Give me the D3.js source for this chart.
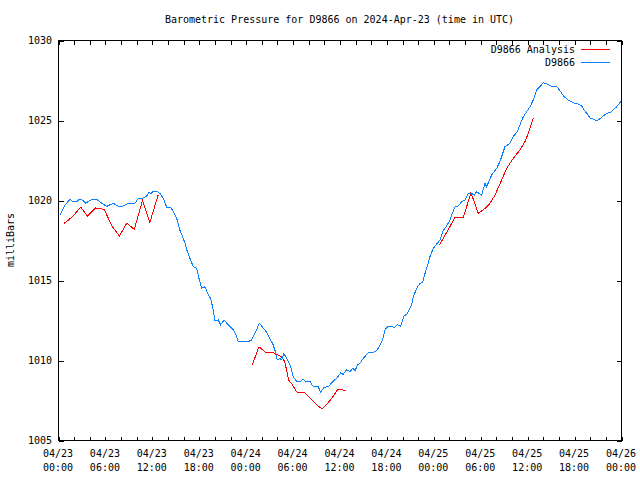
<!DOCTYPE html>
<html><head><meta charset="utf-8">
<script src="https://cdn.jsdelivr.net/npm/d3@7"></script>
<style>
body{margin:0;background:#fff;}
text{font-family:"DejaVu Sans Mono",monospace;font-size:10px;fill:#000;}
</style></head>
<body><svg id="c" width="640" height="480"></svg>
<script>
// hours since 2024-04-23 00:00 UTC, pressure in mb
const title = "Barometric Pressure for D9866 on 2024-Apr-23 (time in UTC)";
const yLabel = "milliBars";
const seriesNames = ["D9866 Analysis", "D9866"];
const yTicks = [1005, 1010, 1015, 1020, 1025, 1030];
const xTickLabels = [["04/23","00:00"],["04/23","06:00"],["04/23","12:00"],["04/23","18:00"],["04/24","00:00"],["04/24","06:00"],["04/24","12:00"],["04/24","18:00"],["04/25","00:00"],["04/25","06:00"],["04/25","12:00"],["04/25","18:00"],["04/26","00:00"]];

const stationData = [
[0.26,1019.06],[0.9,1019.69],[1.53,1020.04],[1.88,1019.9],[2.39,1019.9],[2.72,1020.04],[3.11,1020.0],[3.54,1019.8],[3.87,1019.9],[4.31,1020.04],[4.95,1020.04],[5.59,1019.8],[6.23,1019.6],[7.07,1019.8],[7.71,1019.6],[8.27,1019.6],[8.99,1019.8],[9.85,1019.8],[10.27,1020.1],[10.83,1020.1],[11.34,1020.25],[11.64,1020.5],[11.89,1020.4],[12.19,1020.56],[12.62,1020.56],[13.04,1020.4],[13.47,1020.1],[13.9,1019.54],[14.41,1019.54],[14.74,1019.27],[15.18,1018.85],[15.6,1018.1],[16.02,1017.6],[16.24,1017.3],[16.45,1016.9],[16.88,1016.35],[17.3,1015.83],[17.74,1015.73],[18.03,1015.1],[18.38,1014.48],[18.8,1014.58],[19.22,1014.06],[19.53,1013.85],[19.86,1013.1],[20.08,1012.46],[20.5,1012.5],[20.8,1012.2],[21.23,1012.5],[21.78,1012.2],[22.42,1011.9],[22.85,1011.46],[23.06,1011.15],[24.33,1011.15],[24.77,1011.25],[25.06,1011.56],[25.41,1011.9],[25.74,1012.3],[26.25,1012.0],[26.76,1011.67],[27.11,1011.3],[27.45,1011.04],[27.75,1010.6],[28.04,1010.0],[28.39,1010.1],[28.61,1010.0],[28.9,1010.4],[29.25,1010.1],[29.67,1009.7],[30.09,1008.96],[30.52,1008.65],[30.95,1008.65],[31.37,1008.8],[31.71,1008.65],[32.23,1008.65],[32.65,1008.33],[33.29,1008.33],[33.59,1007.98],[34.02,1008.3],[34.57,1008.33],[35.13,1008.65],[35.64,1008.85],[36.15,1009.2],[36.48,1009.1],[36.92,1009.4],[37.34,1009.27],[37.69,1009.48],[37.98,1009.33],[38.32,1009.7],[38.62,1009.8],[39.04,1010.1],[39.68,1010.46],[40.32,1010.46],[40.75,1010.6],[41.09,1010.83],[41.52,1011.25],[41.82,1011.9],[42.24,1012.1],[42.8,1012.1],[43.0,1012.0],[43.39,1012.2],[43.82,1012.1],[44.25,1012.75],[44.67,1012.9],[45.23,1013.44],[45.44,1013.96],[45.87,1014.48],[46.29,1014.8],[46.64,1014.83],[46.93,1015.4],[47.22,1015.83],[47.57,1016.46],[47.99,1016.98],[48.43,1017.25],[48.85,1017.5],[49.19,1018.02],[49.62,1018.33],[50.04,1018.65],[50.35,1019.06],[50.77,1019.58],[51.19,1019.63],[51.62,1019.9],[52.05,1020.0],[52.47,1020.42],[52.9,1020.42],[53.24,1020.3],[53.54,1020.52],[54.18,1020.3],[54.6,1021.04],[54.82,1020.83],[55.46,1021.56],[56.1,1021.98],[56.52,1022.4],[57.16,1023.33],[57.8,1023.54],[58.22,1023.96],[58.73,1024.27],[59.08,1024.69],[59.5,1025.2],[59.94,1025.52],[60.36,1025.83],[60.78,1026.25],[61.21,1026.88],[61.64,1027.08],[62.06,1027.33],[62.49,1027.25],[63.13,1027.1],[63.77,1027.1],[64.19,1026.83],[64.71,1026.46],[65.26,1026.25],[65.9,1026.08],[66.54,1026.0],[66.97,1025.88],[67.26,1025.63],[67.69,1025.38],[68.12,1025.08],[68.45,1025.06],[68.89,1024.94],[69.22,1025.04],[69.73,1025.25],[70.17,1025.42],[70.68,1025.46],[71.01,1025.63],[71.44,1025.83],[71.78,1026.04],[72.0,1026.15]
];

const analysisSeg1 = [
[0.8,1018.55],[1.85,1018.95],[2.9,1019.55],[3.75,1019.0],[4.8,1019.5],[5.9,1019.42],[6.95,1018.33],[7.85,1017.75],[8.8,1018.55],[9.75,1018.17],[10.8,1019.96],[11.75,1018.6],[12.8,1020.3]
];
const analysisSeg2 = [
[24.85,1009.69],[25.7,1010.83],[26.5,1010.5],[27.5,1010.46],[28.6,1010.2],[29.0,1009.9],[29.5,1008.75],[30.0,1008.44],[30.5,1008.0],[31.5,1007.96],[32.3,1007.6],[33.2,1007.15],[33.8,1006.94],[34.85,1007.5],[35.8,1008.17],[36.3,1008.13],[36.8,1008.1]
];
const analysisSeg3 = [
[48.76,1017.19],[49.27,1017.6],[50.35,1018.54],[50.77,1018.92],[51.83,1018.9],[52.26,1019.58],[52.81,1020.46],[53.75,1019.17],[54.73,1019.52],[55.24,1019.79],[55.88,1020.3],[56.74,1021.25],[57.38,1021.98],[58.22,1022.6],[59.08,1023.13],[59.72,1023.65],[60.14,1024.17],[60.78,1025.1]
];
const analysisSegments = [analysisSeg1, analysisSeg2, analysisSeg3];

const colors = {analysis:"#ff0000", station:"#0a80ff"};

const L=58, R=621, T=40, B=440;
const svg = d3.select("#c");
const x = d3.scaleLinear().domain([0,72]).range([L,R]);
const y = d3.scaleLinear().domain([1005,1030]).range([B,T]);

const line = d3.line().x(d=>x(d[0])).y(d=>y(d[1]));

// frame
svg.append("rect").attr("x",L+0.5).attr("y",T+0.5).attr("width",R-L).attr("height",B-T)
  .attr("fill","none").attr("stroke","#000").attr("shape-rendering","crispEdges");

const xTickVals = d3.range(0,73,2);
const gB = svg.append("g").attr("transform",`translate(0.5,${B+0.5})`)
  .call(d3.axisTop(x).tickValues(xTickVals).tickSize(4).tickFormat(""));
const gT = svg.append("g").attr("transform",`translate(0.5,${T+0.5})`)
  .call(d3.axisBottom(x).tickValues(xTickVals).tickSize(4).tickFormat(""));
const gL = svg.append("g").attr("transform",`translate(${L+0.5},0.5)`)
  .call(d3.axisRight(y).tickValues(yTicks).tickSize(5).tickFormat(""));
const gR = svg.append("g").attr("transform",`translate(${R+0.5},0.5)`)
  .call(d3.axisLeft(y).tickValues(yTicks).tickSize(5).tickFormat(""));
[gB,gT,gL,gR].forEach(g=>{g.select(".domain").remove();g.selectAll("line").attr("stroke","#000").attr("shape-rendering","crispEdges");});

// y labels
svg.append("g").selectAll("text").data(yTicks).join("text")
  .attr("x",L-6).attr("y",d=>y(d)+4).attr("text-anchor","end").text(d=>d);

// x labels
const xl = svg.append("g").selectAll("text").data(xTickLabels).join("text")
  .attr("text-anchor","middle");
xl.append("tspan").attr("x",(d,i)=>x(i*6)).attr("y",457).text(d=>d[0]);
xl.append("tspan").attr("x",(d,i)=>x(i*6)).attr("y",471).text(d=>d[1]);

// title
svg.append("text").attr("x",(L+R)/2).attr("y",23).attr("text-anchor","middle").text(title);
// y axis label
svg.append("text").attr("transform","translate(14,240) rotate(-90)").attr("text-anchor","middle").text(yLabel);

// series
analysisSegments.forEach(seg=>{
  svg.append("path").datum(seg).attr("d",line).attr("fill","none")
    .attr("stroke",colors.analysis).attr("stroke-width",1).attr("shape-rendering","crispEdges");
});
svg.append("path").datum(stationData).attr("d",line).attr("fill","none")
  .attr("stroke",colors.station).attr("stroke-width",1).attr("shape-rendering","crispEdges");

// legend
const legend = [{name:seriesNames[0],color:colors.analysis,y:49},{name:seriesNames[1],color:colors.station,y:62}];
const lg = svg.append("g");
legend.forEach(d=>{
  lg.append("text").attr("x",575).attr("y",d.y+4).attr("text-anchor","end").text(d.name);
  lg.append("line").attr("x1",581).attr("x2",610).attr("y1",d.y+0.5).attr("y2",d.y+0.5)
    .attr("stroke",d.color).attr("shape-rendering","crispEdges");
});
</script></body></html>
